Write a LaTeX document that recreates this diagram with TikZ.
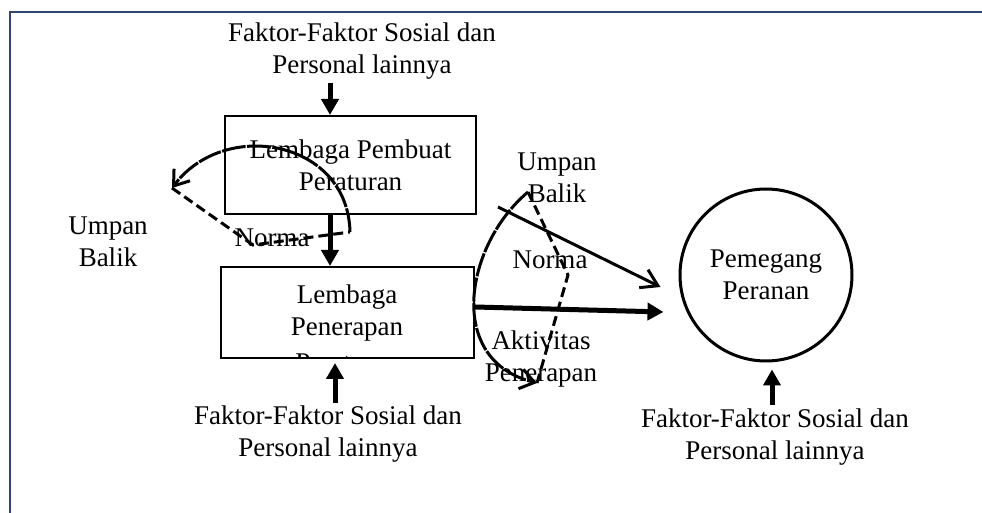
\documentclass[tikz,border=0pt]{standalone}
\usepackage{fontspec}
\setmainfont{Liberation Serif}
\usetikzlibrary{arrows.meta, positioning}
\definecolor{framenavy}{RGB}{47,70,115}
\tikzset{
    % Blocks
    lembaga/.style = {draw=black, line width=1pt, rectangle, inner sep=0pt, align=center},
    peran/.style   = {draw=black, line width=1.5pt, circle, minimum size=86pt, inner sep=0pt, align=center},
    ket/.style     = {align=center, inner sep=0pt},
    % Edges
    bigarrow/.style  = {line width=2.5pt, -{Triangle[length=8pt,width=8.5pt]}},
    normarrow/.style = {line width=1.5pt, -{Straight Barb[length=8pt,width=10pt]}},
    fbarc/.style     = {line width=1.5pt, dash pattern=on 12pt off 0.7pt, -{Straight Barb[length=7pt,width=10pt]}},
    fbdash/.style    = {line width=1.5pt, dash pattern=on 5pt off 2.5pt},
    frameline/.style = {draw=framenavy, line width=1.2pt}
}

\begin{document}
\begin{tikzpicture}[x=0.5pt, y=-0.5pt, font=\fontsize{13.5}{16}\selectfont]
    \useasboundingbox (0,0) rectangle (982,513);

    % Page frame
    \draw[frameline] (10,513) -- (10,12) -- (982,12);

    % Factor texts
    \node[ket] (faktorAtas) at (362,51.5) {Faktor-Faktor Sosial dan\\Personal lainnya};
    \node[ket] (faktorKiri) at (328,434.5) {Faktor-Faktor Sosial dan\\Personal lainnya};
    \node[ket] (faktorKanan) at (775,437) {Faktor-Faktor Sosial dan\\Personal lainnya};

    % Institutions
    \node[lembaga, minimum width=125.5pt, minimum height=49pt] (pembuat) at (350.5,165) {Lembaga Pembuat\\Peraturan};
    \node[lembaga, minimum width=126.5pt, minimum height=45.5pt] (penerapan) at (347.5,312.5) {};
    \begin{scope}
        \clip (penerapan.south west) rectangle (penerapan.north east);
        \node[ket] (penerapanTeks) at (347,328) {Lembaga\\Penerapan\\[2pt]Peraturan};
    \end{scope}

    % Role holder
    \node[peran] (pemegang) at (766,275) {Pemegang\\Peranan};

    % Labels
    \node[ket] (umpanKiri) at (108,242) {Umpan\\Balik};
    \node[ket] (normaKiri) at (272,238) {Norma};
    \node[ket] (umpanKanan) at (557,178) {Umpan\\Balik};
    \node[ket] (normaKanan) at (550,260) {Norma};
    \node[ket] (aktivitas) at (541,359) {Aktivitas\\Penerapan};

    % --- Connections ---
    \coordinate (inA) at (330,83);
    \coordinate (inB) at (335,403);
    \coordinate (inC) at (772,405);
    \draw[bigarrow] (inA) -- (inA |- pembuat.north);
    \draw[bigarrow] ([xshift=-10.25pt]pembuat.south) -- ([xshift=-8.75pt]penerapan.north);
    \draw[bigarrow, shorten >=2pt] (inB) -- (inB |- penerapan.south);
    \draw[bigarrow, shorten >=3.5pt] (inC) -- (inC |- pemegang.south);

    % Towards the role holder
    \draw[bigarrow] ([yshift=2.75pt]penerapan.east) -- ([xshift=-7.5pt,yshift=-18.5pt]pemegang.west);
    \coordinate (normaEkor) at (498,207);
    \draw[normarrow] (normaEkor) -- ([xshift=-9pt,yshift=-6pt]pemegang.west);

    % Feedback loops
    \coordinate (fbAtasKanan) at (528,192);
    \coordinate (fbTengahKanan) at (568,275);
    \coordinate (fbBawahKanan) at (537,383);
    \draw[fbarc] (fbAtasKanan) .. controls (465,245) and (445,360) .. (fbBawahKanan);
    \draw[fbdash] (fbAtasKanan) -- (fbTengahKanan) -- (fbBawahKanan);

    \coordinate (fbUjungKiri) at (350,232);
    \coordinate (fbTengahKiri) at (253,245);
    \coordinate (fbPanahKiri) at (172,188);
    \draw[fbarc] (fbUjungKiri) .. controls (348,140) and (225,118) .. (fbPanahKiri);
    \draw[fbdash] (fbPanahKiri) -- (fbTengahKiri) -- (fbUjungKiri);

\end{tikzpicture}
\end{document}
